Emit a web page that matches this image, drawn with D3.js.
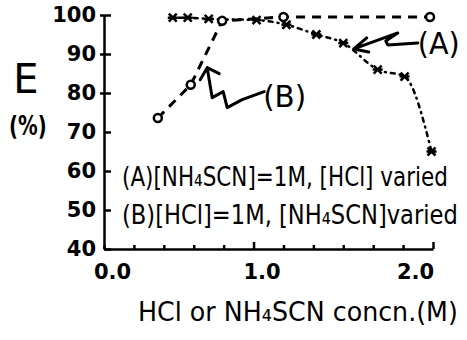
<!DOCTYPE html>
<html>
<head>
<meta charset="utf-8">
<script src="https://cdn.jsdelivr.net/npm/d3@7"></script>
<style>
  body { margin: 0; background: #fff; }
  text { font-family: "DejaVu Sans", sans-serif; fill: #000; }
</style>
</head>
<body>
<svg id="chart" width="467" height="340"></svg>
<script>
// y axis ticks (E, %)
var yTicks = [40, 50, 60, 70, 80, 90, 100];
// x axis minor ticks and labelled ticks (M)
var xTicks = [0, 0.2, 0.4, 0.6, 0.8, 1.0, 1.2, 1.4, 1.6, 1.8, 2.0, 2.2];
var xLabelValues = [0, 1, 2];
var xTickLabels = ["0.0", "1.0", "2.0"];

// (A) [NH4SCN]=1M, [HCl] varied
var seriesA_conc = [0.46, 0.56, 0.70, 1.02, 1.22, 1.42, 1.60, 1.83, 2.01, 2.19];
var seriesA_E    = [99.3, 99.3, 99.0, 98.7, 97.5, 95.0, 92.8, 86.0, 84.2, 65.0];

// (B) [HCl]=1M, [NH4SCN] varied
var seriesB_conc = [0.36, 0.58, 0.79, 1.20, 2.18];
var seriesB_E    = [73.6, 82.1, 98.5, 99.5, 99.5];

var noteTexts = ["(A)[NH₄SCN]=1M, [HCl] varied", "(B)[HCl]=1M, [NH₄SCN]varied"];

var svg = d3.select("#chart");

var x = d3.scaleLinear().domain([0, 2.2]).range([104, 433]);
var y = d3.scaleLinear().domain([40, 100]).range([249, 15]);

// squeeze a text horizontally so it spans the given width
function fitText(str, x0, y0, w, size) {
  var t = svg.append("text").style("font-size", size + "px").text(str);
  var sx = w / t.node().getComputedTextLength();
  t.attr("transform", "translate(" + x0 + "," + y0 + ")scale(" + sx + ",1)");
  return t;
}

// y axis: ticks point inward, labels on the left
var yAxis = svg.append("g")
  .attr("transform", "translate(" + x(0) + ",0)")
  .call(d3.axisLeft(y).tickValues(yTicks).tickSizeInner(-7).tickSizeOuter(0).tickPadding(8));
yAxis.selectAll("text")
  .style("font-size", "21px").style("font-weight", "bold");
yAxis.selectAll(".tick line")
  .attr("x1", d => d >= 80 ? -4 : 0)
  .attr("stroke-width", 2.5);

// x axis
var xAxis = svg.append("g")
  .attr("transform", "translate(0," + y(40) + ")")
  .call(d3.axisBottom(x).tickValues(xTicks).tickSizeInner(-4).tickSizeOuter(0).tickPadding(15)
    .tickFormat(d => {
      var i = xLabelValues.indexOf(Math.round(d * 10) / 10);
      return i >= 0 ? xTickLabels[i] : "";
    }));
xAxis.selectAll("text")
  .attr("dx", d => d > 1.5 ? 12 : 8)
  .style("font-size", "21px").style("font-weight", "bold");
xAxis.selectAll(".tick line")
  .attr("y2", d => (Math.abs(d - 1) < 1e-6 || d > 2.1) ? -7 : -4)
  .attr("stroke-width", 2.5);

svg.selectAll(".domain").attr("stroke-width", 2.5);

var ptsA = seriesA_conc.map((c, i) => [c, seriesA_E[i]]);
var ptsB = seriesB_conc.map((c, i) => [c, seriesB_E[i]]);

var lineA = d3.line().x(d => x(d[0])).y(d => y(d[1])).curve(d3.curveMonotoneX);
var lineB = d3.line().x(d => x(d[0])).y(d => y(d[1]));

// curve A (dotted, dash-dot)
svg.append("path")
  .datum(ptsA)
  .attr("d", lineA)
  .attr("fill", "none").attr("stroke", "#000")
  .attr("stroke-width", 2.5)
  .attr("stroke-linecap", "round")
  .attr("stroke-dasharray", "1,5,4,5");

// curve B (dashed)
svg.append("path")
  .datum(ptsB)
  .attr("d", lineB)
  .attr("fill", "none").attr("stroke", "#000")
  .attr("stroke-width", 3)
  .attr("stroke-dasharray", "9,7");

// markers
svg.append("g").selectAll("path.xmark")
  .data(ptsA)
  .enter().append("path")
  .attr("class", "xmark")
  .attr("transform", d => "translate(" + x(d[0]) + "," + y(d[1]) + ")")
  .attr("d", "M-4,-4L4,4M-4,4L4,-4M-5,0L5,0")
  .attr("stroke", "#000").attr("stroke-width", 2.5);

svg.append("g").selectAll("circle")
  .data(ptsB)
  .enter().append("circle")
  .attr("cx", d => x(d[0])).attr("cy", d => y(d[1]))
  .attr("r", 4)
  .attr("fill", "#fff").attr("stroke", "#000").attr("stroke-width", 2.5);

// squiggly labels
var tipA = [x(1.67), y(91.3)];
svg.append("path")
  .attr("d", "M" + (tipA[0] + 64) + "," + (tipA[1] - 6) +
    "L" + (tipA[0] + 34) + "," + (tipA[1] - 4) +
    "L" + (tipA[0] + 32) + "," + (tipA[1] - 8) +
    "L" + (tipA[0] + 44) + "," + (tipA[1] - 16) +
    "L" + tipA[0] + "," + tipA[1] +
    "M" + tipA[0] + "," + tipA[1] + "L" + (tipA[0] + 13) + "," + (tipA[1] - 11) +
    "M" + tipA[0] + "," + tipA[1] + "L" + (tipA[0] + 15) + "," + (tipA[1] + 3))
  .attr("fill", "none").attr("stroke", "#000").attr("stroke-width", 3)
  .attr("stroke-linejoin", "round").attr("stroke-linecap", "round");
fitText("(A)", tipA[0] + 64, tipA[1] + 5, 42, 31);

var tipB = [x(0.69), y(86.5)];
svg.append("path")
  .attr("d", "M" + tipB[0] + "," + tipB[1] +
    "L" + (tipB[0] + 5) + "," + (tipB[1] + 30) +
    "L" + (tipB[0] + 16) + "," + (tipB[1] + 24) +
    "L" + (tipB[0] + 20) + "," + (tipB[1] + 40) +
    "L" + (tipB[0] + 35) + "," + (tipB[1] + 32) +
    "L" + (tipB[0] + 57) + "," + (tipB[1] + 24) +
    "M" + tipB[0] + "," + tipB[1] + "L" + (tipB[0] - 7) + "," + (tipB[1] + 12) +
    "M" + tipB[0] + "," + tipB[1] + "L" + (tipB[0] + 12) + "," + (tipB[1] + 6))
  .attr("fill", "none").attr("stroke", "#000").attr("stroke-width", 3)
  .attr("stroke-linejoin", "round").attr("stroke-linecap", "round");
fitText("(B)", tipB[0] + 56, tipB[1] + 39, 43, 31);

// condition notes
fitText(noteTexts[0], 122, 186, 326, 27);
fitText(noteTexts[1], 122, 224, 336, 27);

// axis titles
svg.append("text")
  .attr("x", 26).attr("y", 93)
  .attr("text-anchor", "middle")
  .style("font-size", "40px")
  .text("E");
fitText("(%)", 9, 135, 34, 26).style("font-weight", "bold");

fitText("HCl or NH₄SCN concn.(M)", 138, 321, 320, 27);
</script>
</body>
</html>
